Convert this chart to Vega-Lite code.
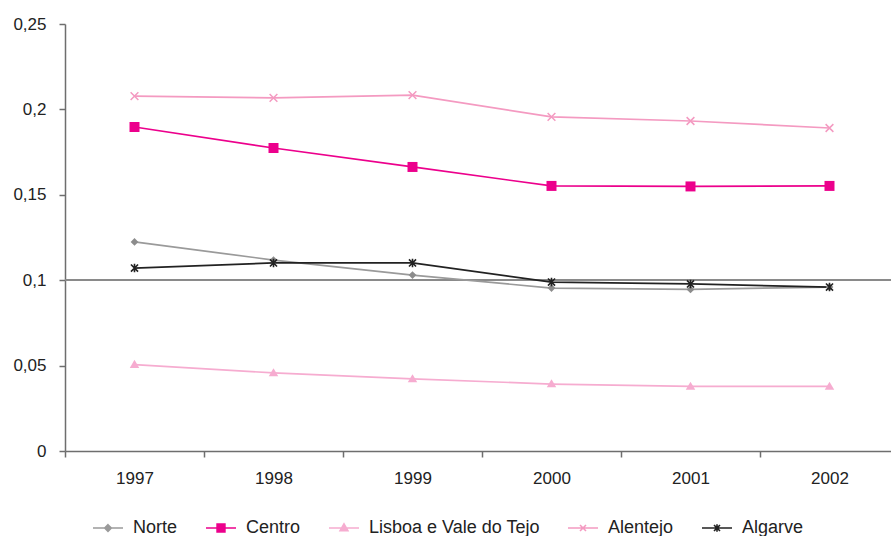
{
  "$schema": "https://vega.github.io/schema/vega-lite/v6.json",
  "autosize": "none",
  "padding": {"left": 65, "top": 24, "right": 0, "bottom": 85},
  "width": 834,
  "height": 427,
  "background": "white",
  "config": {
    "view": {"stroke": null},
    "font": "Liberation Sans",
    "axis": {"labelFont": "Liberation Sans", "labelFontSize": 17, "labelColor": "#222222", "domainColor": "#6e6e6e", "tickColor": "#6e6e6e", "domainWidth": 1.5, "tickWidth": 1.5, "grid": false, "title": null}
  },
  "data": {
    "values": [
      {"ano": "1997", "regiao": "Norte", "v": 0.1224},
      {"ano": "1998", "regiao": "Norte", "v": 0.1118},
      {"ano": "1999", "regiao": "Norte", "v": 0.1030},
      {"ano": "2000", "regiao": "Norte", "v": 0.0954},
      {"ano": "2001", "regiao": "Norte", "v": 0.0946},
      {"ano": "2002", "regiao": "Norte", "v": 0.0960},
      {"ano": "1997", "regiao": "Centro", "v": 0.1897},
      {"ano": "1998", "regiao": "Centro", "v": 0.1774},
      {"ano": "1999", "regiao": "Centro", "v": 0.1663},
      {"ano": "2000", "regiao": "Centro", "v": 0.1552},
      {"ano": "2001", "regiao": "Centro", "v": 0.1549},
      {"ano": "2002", "regiao": "Centro", "v": 0.1552},
      {"ano": "1997", "regiao": "Lisboa e Vale do Tejo", "v": 0.0506},
      {"ano": "1998", "regiao": "Lisboa e Vale do Tejo", "v": 0.0457},
      {"ano": "1999", "regiao": "Lisboa e Vale do Tejo", "v": 0.0422},
      {"ano": "2000", "regiao": "Lisboa e Vale do Tejo", "v": 0.0392},
      {"ano": "2001", "regiao": "Lisboa e Vale do Tejo", "v": 0.0378},
      {"ano": "2002", "regiao": "Lisboa e Vale do Tejo", "v": 0.0378},
      {"ano": "1997", "regiao": "Alentejo", "v": 0.2078},
      {"ano": "1998", "regiao": "Alentejo", "v": 0.2067},
      {"ano": "1999", "regiao": "Alentejo", "v": 0.2084},
      {"ano": "2000", "regiao": "Alentejo", "v": 0.1956},
      {"ano": "2001", "regiao": "Alentejo", "v": 0.1932},
      {"ano": "2002", "regiao": "Alentejo", "v": 0.1891},
      {"ano": "1997", "regiao": "Algarve", "v": 0.1071},
      {"ano": "1998", "regiao": "Algarve", "v": 0.1101},
      {"ano": "1999", "regiao": "Algarve", "v": 0.1101},
      {"ano": "2000", "regiao": "Algarve", "v": 0.0989},
      {"ano": "2001", "regiao": "Algarve", "v": 0.0978},
      {"ano": "2002", "regiao": "Algarve", "v": 0.0960}
    ]
  },
  "encoding": {
    "x": {"field": "ano", "type": "ordinal", "scale": {"type": "band", "paddingInner": 0, "paddingOuter": 0}, "axis": {"labelAngle": 0, "tickBand": "extent", "tickSize": 6, "labelPadding": 13}},
    "y": {"field": "v", "type": "quantitative", "scale": {"domain": [0, 0.25], "nice": false}, "axis": {"values": [0, 0.05, 0.1, 0.15, 0.2, 0.25], "labelExpr": "replace(format(datum.value, '.2~f'), '.', ',')", "tickSize": 6, "labelPadding": 13}}
  },
  "layer": [
    {
      "mark": {"type": "rule", "color": "#8a8a8a", "strokeWidth": 1.5},
      "encoding": {"x": null, "y": {"datum": 0.1, "type": "quantitative"}}
    },
    {
      "mark": {"type": "line", "strokeWidth": 1.7},
      "encoding": {
        "color": {
          "field": "regiao", "type": "nominal",
          "scale": {"domain": ["Norte", "Centro", "Lisboa e Vale do Tejo", "Alentejo", "Algarve"], "range": ["#9a9a9a", "#ec008c", "#f6acd0", "#f49ac1", "#222222"]},
          "legend": {
            "title": null, "orient": "none", "direction": "horizontal", "legendX": 27, "legendY": 488,
            "labelFont": "Liberation Sans", "labelFontSize": 18, "labelColor": "#222222", "labelLimit": 400,
            "symbolSize": 900, "columnPadding": 24, "labelOffset": 9,
            "encode": {
              "symbols": {
                "update": {
                  "shape": {"signal": "datum.value == 'Norte' ? 'M-1,0H1M0,-0.22L0.22,0L0,0.22L-0.22,0Z' : datum.value == 'Centro' ? 'M-1,0H1M-0.26,-0.26H0.26V0.26H-0.26Z' : datum.value == 'Lisboa e Vale do Tejo' ? 'M-1,0H1M0,-0.27L0.26,0.18H-0.26Z' : datum.value == 'Alentejo' ? 'M-1,0H1M-0.2,-0.2L0.2,0.2M-0.2,0.2L0.2,-0.2' : 'M-1,0H1M-0.2,-0.2L0.2,0.2M-0.2,0.2L0.2,-0.2M0,-0.25V0.25'"},
                  "fill": {"signal": "scale('color', datum.value)"},
                  "stroke": {"signal": "scale('color', datum.value)"},
                  "strokeWidth": {"value": 1.6},
                  "opacity": {"value": 1}
                }
              }
            }
          }
        }
      }
    },
    {
      "transform": [{"filter": "datum.regiao == 'Norte'"}],
      "mark": {"type": "point", "shape": "diamond", "filled": true, "opacity": 1, "color": "#8c8c8c", "size": 60}
    },
    {
      "transform": [{"filter": "datum.regiao == 'Centro'"}],
      "mark": {"type": "point", "shape": "square", "filled": true, "opacity": 1, "color": "#ec008c", "size": 100}
    },
    {
      "transform": [{"filter": "datum.regiao == 'Lisboa e Vale do Tejo'"}],
      "mark": {"type": "point", "shape": "M0,-1L1,0.7H-1Z", "filled": true, "opacity": 1, "color": "#f6acd0", "size": 90}
    },
    {
      "transform": [{"filter": "datum.regiao == 'Alentejo'"}],
      "mark": {"type": "point", "shape": "M-1,-1L1,1M-1,1L1,-1", "filled": false, "opacity": 1, "color": "#f49ac1", "strokeWidth": 1.5, "size": 60}
    },
    {
      "transform": [{"filter": "datum.regiao == 'Algarve'"}],
      "mark": {"type": "point", "shape": "M-1,-1L1,1M-1,1L1,-1M0,-1.2V1.2", "filled": false, "opacity": 1, "color": "#222222", "strokeWidth": 1.6, "size": 50}
    }
  ]
}
